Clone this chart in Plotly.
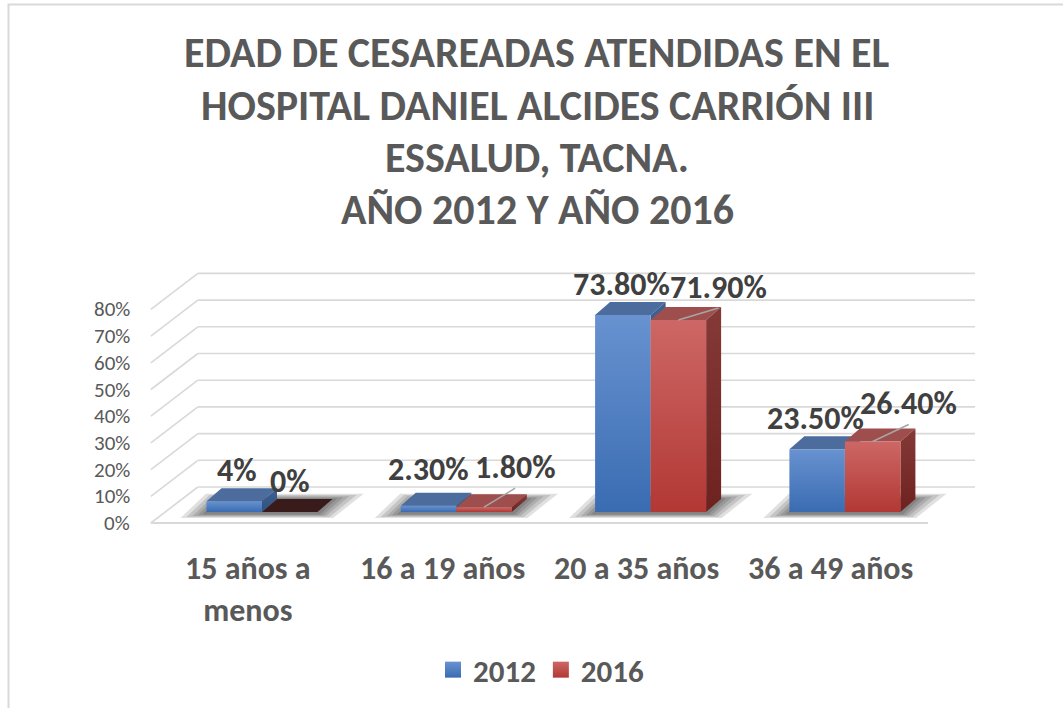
import plotly.graph_objects as go

# ---------------- data ----------------
categories = ["15 años a<br>menos", "16 a 19 años", "20 a 35 años", "36 a 49 años"]
series_names = ["2012", "2016"]
values_2012 = [4.0, 2.3, 73.8, 23.5]
values_2016 = [0.0, 1.8, 71.9, 26.4]
labels_2012 = ["4%", "2.30%", "73.80%", "23.50%"]
labels_2016 = ["0%", "1.80%", "71.90%", "26.40%"]
tick_values = [0, 10, 20, 30, 40, 50, 60, 70, 80]
tick_labels = ["0%", "10%", "20%", "30%", "40%", "50%", "60%", "70%", "80%"]
title_lines = [
    "EDAD DE CESAREADAS ATENDIDAS EN EL",
    "HOSPITAL DANIEL ALCIDES CARRIÓN III",
    "ESSALUD, TACNA.",
    "AÑO 2012 Y AÑO 2016",
]

# ---------------- geometry / style ----------------
W, H = 1063, 708
X0_PX, CAT_PX = 262.0, 194.3      # pixel of category 0 centre, pixels per category
Y0_PX, VAL_PX = 512.0, 2.67       # pixel of value 0 (bar front plane), pixels per 1%
FONT = "Calibri, Carlito, Lato, sans-serif"
TXT = "#595959"
LBL = "#404040"
GRID = "#d9d9d9"

LABEL_PLANE = (-14, 11)   # pixel offsets relative to the bar front plane
BACK_PLANE = (33, -25)
BAR_DEPTH = (15, -13)
BAR_W = 1 / 3.5           # gap width 150 %

STYLES = {
    "2012": dict(front=["#3a6cb2", "#6892d0"], top="#4b6c9c", side=["#2f5280", "#3f6192"]),
    "2016": dict(front=["#b23834", "#cd6765"], top="#9e4f4d", side=["#6e2220", "#863a38"]),
}
ZERO_TOP = "#3a1b1b"

# label offsets in pixels (dx, dy upward)
blue_label_shift = [(3, 31), (0, 36), (-1, 30), (-2, 31)]
red_label_shift = [(0, 31), (31, 40), (40, 33), (36, 38)]


def off(x, y, dpx):
    """shift a data point by a pixel offset (dx right, dy down)"""
    return x + dpx[0] / CAT_PX, y - dpx[1] / VAL_PX


fig = go.Figure()


def poly(xs, ys, **kw):
    fig.add_trace(go.Scatter(x=list(xs) + [xs[0]], y=list(ys) + [ys[0]], mode="lines",
                             fill="toself", line=dict(width=0), hoverinfo="skip",
                             showlegend=False, **kw))


def line(xs, ys, color=GRID, width=1.6):
    fig.add_trace(go.Scatter(x=xs, y=ys, mode="lines", line=dict(color=color, width=width),
                             hoverinfo="skip", showlegend=False))


# ---- back wall gridlines + left wall diagonals ----
xl, xr = -0.5, len(categories) - 0.5
for v in tick_values:
    bx0, by = off(xl, v, BACK_PLANE)
    bx1, _ = off(xr, v, BACK_PLANE)
    line([bx0, bx1], [by, by])
    lx, ly = off(xl, v, LABEL_PLANE)
    line([lx, bx0], [ly, by])
# front floor edge
fx0, fy = off(xl, 0, LABEL_PLANE)
fx1, _ = off(xr, 0, LABEL_PLANE)
line([fx0, fx1], [fy, fy], width=2)

# ---- shadows ----
for i in range(len(categories)):
    xa = i - BAR_W
    xb = i + BAR_W
    for k, e in enumerate([26, 20, 14, 9, 4]):
        p1 = off(xa, 0, (-e, 2 + e * 0.15))
        p2 = off(xb, 0, (e * 0.6, 2 + e * 0.15))
        p3 = off(xb, 0, (BAR_DEPTH[0] + e * 1.2, BAR_DEPTH[1] - e * 0.2))
        p4 = off(xa, 0, (BAR_DEPTH[0] - e * 0.6, BAR_DEPTH[1] - e * 0.2))
        poly([p1[0], p2[0], p3[0], p4[0]], [p1[1], p2[1], p3[1], p4[1]],
             fillcolor="rgba(0,0,0,0.12)")

# ---- bars ----
for i in range(len(categories)):
    for s, (name, vals) in enumerate(zip(series_names, [values_2012, values_2016])):
        st = STYLES[name]
        v = vals[i]
        x0 = i - BAR_W if s == 0 else i
        x1 = x0 + BAR_W
        # top face
        t1 = (x0, v)
        t2 = (x1, v)
        t3 = off(x1, v, BAR_DEPTH)
        t4 = off(x0, v, BAR_DEPTH)
        poly([t1[0], t2[0], t3[0], t4[0]], [t1[1], t2[1], t3[1], t4[1]],
             fillcolor=st["top"] if v > 0 else ZERO_TOP)
        if v > 0:
            # side face
            s1 = (x1, 0)
            s2 = off(x1, 0, BAR_DEPTH)
            s3 = off(x1, v, BAR_DEPTH)
            s4 = (x1, v)
            poly([s1[0], s2[0], s3[0], s4[0]], [s1[1], s2[1], s3[1], s4[1]],
                 fillcolor=st["side"][0],
                 fillgradient=dict(type="vertical",
                                   colorscale=[[0, st["side"][0]], [1, st["side"][1]]]))
            # front face
            poly([x0, x1, x1, x0], [0, 0, v, v], fillcolor=st["front"][0],
                 fillgradient=dict(type="vertical",
                                   colorscale=[[0, st["front"][0]], [1, st["front"][1]]]))

# ---- data labels ----
for s, (vals, labs, shifts) in enumerate([(values_2012, labels_2012, blue_label_shift),
                                          (values_2016, labels_2016, red_label_shift)]):
    for i, (v, lab) in enumerate(zip(vals, labs)):
        xc = i - BAR_W / 2 if s == 0 else i + BAR_W / 2
        dx, dy = shifts[i]
        lx, ly = off(xc, v, (dx, -dy))
        fig.add_annotation(x=lx, y=ly, text=lab, showarrow=False,
                           font=dict(family=FONT, size=32, color=LBL, weight="bold"),
                           xanchor="center", yanchor="middle")
        if dx > 20:
            ex, ey = off(xc, v, (dx, -dy + 21))
            line([xc, ex], [v, ey], color="#a6a6a6", width=1.5)

# ---- y tick labels ----
for v, t in zip(tick_values, tick_labels):
    lx, ly = off(xl, v, LABEL_PLANE)
    fig.add_annotation(x=lx, y=ly, text=t, showarrow=False, xanchor="right", yanchor="middle",
                       xshift=-19, font=dict(family=FONT, size=21, color=TXT))

# ---- category labels ----
for i, c in enumerate(categories):
    lx, ly = off(i, 0, LABEL_PLANE)
    fig.add_annotation(x=lx, y=ly, text=c, showarrow=False, xanchor="center", yanchor="top",
                       yshift=-24, font=dict(family=FONT, size=32, color=TXT, weight="bold"))

# ---- title ----
for k, t in enumerate(title_lines):
    fig.add_annotation(xref="paper", yref="paper", x=537 / W, y=1 - (53 + 52 * k) / H,
                       text=t, showarrow=False, xanchor="center", yanchor="middle",
                       font=dict(family=FONT, size=42, color=TXT, weight="bold"))

# ---- legend traces ----
for name in series_names:
    st = STYLES[name]
    fig.add_trace(go.Scatter(x=[None], y=[None], mode="markers", name=name,
                             marker=dict(symbol="square", size=18, color=st["front"][1],
                                         gradient=dict(type="vertical", color=st["front"][0]),
                                         line=dict(width=0))))

# frame
fig.add_shape(type="rect", xref="paper", yref="paper", x0=8.5 / W, x1=1.02, y0=-0.02, y1=1 - 4.5 / H,
              line=dict(color="#d9d9d9", width=2), fillcolor="rgba(0,0,0,0)")

fig.update_layout(
    width=W, height=H, autosize=False,
    margin=dict(l=0, r=0, t=0, b=0),
    paper_bgcolor="white", plot_bgcolor="white",
    hovermode=False,
    xaxis=dict(range=[-X0_PX / CAT_PX, (W - X0_PX) / CAT_PX], visible=False, fixedrange=True),
    yaxis=dict(range=[-(H - Y0_PX) / VAL_PX, Y0_PX / VAL_PX], visible=False, fixedrange=True),
    showlegend=True,
    legend=dict(orientation="h", x=541 / W, xanchor="center", y=1 - 670 / H, yanchor="middle",
                font=dict(family=FONT, size=31, color=TXT, weight="bold"),
                itemwidth=30, bgcolor="rgba(0,0,0,0)"),
)

fig.write_html("out.html", config={"displayModeBar": False},
               post_script="document.body.style.margin='0px';")
